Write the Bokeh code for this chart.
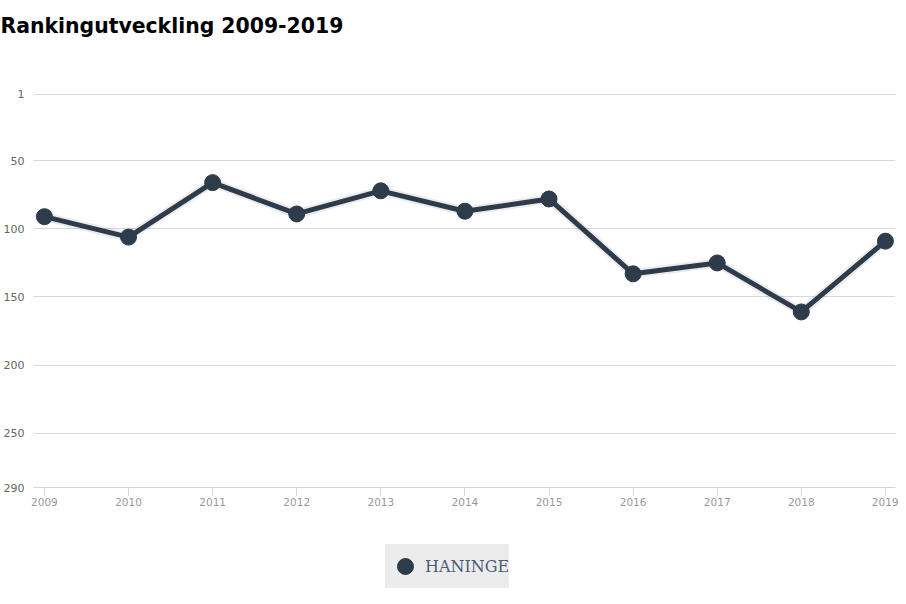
from bokeh.plotting import figure
from bokeh.models import Range1d, FixedTicker, Legend, LegendItem, ColumnDataSource
from bokeh.layouts import column
from bokeh.core.properties import value
from bokeh.embed import file_html
from bokeh.resources import INLINE

years = [2009, 2010, 2011, 2012, 2013, 2014, 2015, 2016, 2017, 2018, 2019]
rank = [91, 106, 66, 89, 72, 87, 78, 133, 125, 161, 109]
y_ticks = [1, 50, 100, 150, 200, 250, 290]
series_name = "HANINGE"
title_text = "Rankingutveckling 2009-2019"

LINE_COLOR = "#2e3b4b"
W = 898

# ---- title strip ----
t = figure(width=W, height=50, output_backend="svg", toolbar_location=None,
           x_range=Range1d(0, W), y_range=Range1d(0, 50),
           min_border=0, x_axis_type=None, y_axis_type=None)
t.frame_align = False
t.outline_line_color = None
t.grid.visible = False
t.text(x=[0], y=[25], text=[title_text], text_font=value("DejaVu Sans"),
       text_font_style="bold", text_font_size="20.4px", text_color="#000000",
       text_baseline="middle", text_align="left")

# ---- main chart ----
src = ColumnDataSource(dict(x=years, y=rank))
p = figure(width=W, height=467, output_backend="svg", toolbar_location=None,
           x_range=Range1d(2008.87, 2019.12), y_range=Range1d(290, 0.5),
           min_border_left=33, min_border_right=3, min_border_top=43, min_border_bottom=30)
p.outline_line_color = None

p.yaxis.ticker = FixedTicker(ticks=y_ticks)
p.yaxis.axis_line_color = None
p.yaxis.major_tick_line_color = None
p.yaxis.major_tick_out = 0
p.yaxis.major_tick_in = 0
p.yaxis.minor_tick_line_color = None
p.yaxis.major_label_text_color = "#666666"
p.yaxis.major_label_text_font = "DejaVu Sans"
p.yaxis.major_label_text_font_size = "11px"
p.yaxis.major_label_standoff = 9
p.ygrid.ticker = FixedTicker(ticks=y_ticks[:-1])
p.ygrid.grid_line_color = "#d8d8d8"

p.xaxis.ticker = FixedTicker(ticks=years)
p.xaxis.axis_line_color = "#ccd6eb"
p.xaxis.major_tick_line_color = "#ccd6eb"
p.xaxis.major_tick_out = 8
p.xaxis.major_tick_in = 0
p.xaxis.minor_tick_line_color = None
p.xaxis.major_label_text_color = "#999999"
p.xaxis.major_label_text_font = "DejaVu Sans"
p.xaxis.major_label_text_font_size = "10.5px"
p.xaxis.major_label_standoff = 2
p.xgrid.grid_line_color = None

p.line(x="x", y="y", source=src, line_color="#000000", line_alpha=0.08, line_width=9)
p.line(x="x", y="y", source=src, line_color=LINE_COLOR, line_width=5)
p.scatter(x="x", y="y", source=src, size=16, fill_color=LINE_COLOR, line_color=LINE_COLOR)

# ---- legend strip ----
lg = figure(width=W, height=79, output_backend="svg", toolbar_location=None,
            x_range=Range1d(0, W), y_range=Range1d(0, 79),
            min_border=0, x_axis_type=None, y_axis_type=None)
lg.frame_align = False
lg.outline_line_color = None
lg.grid.visible = False
# series marker for the legend (its data points lie outside this strip's ranges)
legend_marker = lg.scatter(x="x", y="y", source=src, size=16,
                           fill_color=LINE_COLOR, line_color=LINE_COLOR)
legend = Legend(items=[LegendItem(label=series_name, renderers=[legend_marker])],
                location=(385, 8), orientation="horizontal",
                background_fill_color="#ececec", background_fill_alpha=1,
                border_line_color=None, label_text_font="DejaVu Serif",
                label_text_font_size="16px", label_text_color="#4b5b78",
                glyph_width=40, glyph_height=44, padding=2, margin=0,
                label_standoff=0)
lg.add_layout(legend, "center")

layout = column(t, p, lg, spacing=0)
open("out.html", "w").write(file_html(layout, INLINE))
